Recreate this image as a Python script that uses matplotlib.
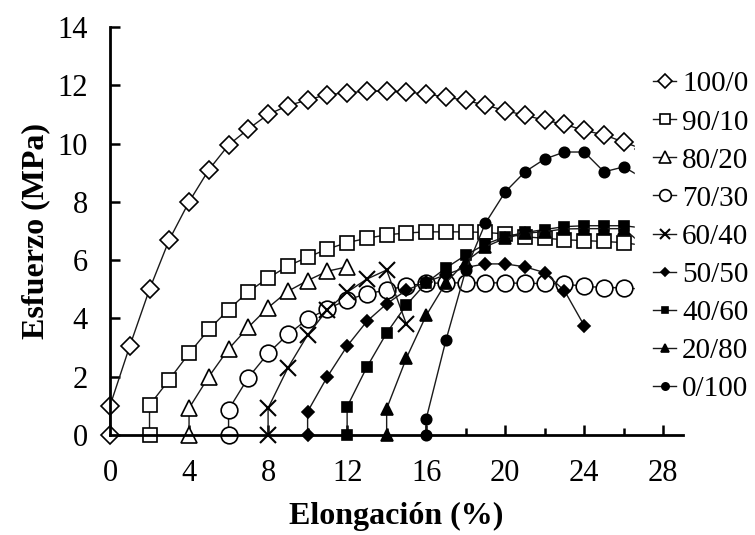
import matplotlib
matplotlib.use("Agg")
import matplotlib.pyplot as plt
from matplotlib.ticker import MultipleLocator

plt.rcParams['font.family'] = ['Liberation Serif', 'DejaVu Serif']

# strain (%) / stress (MPa) for each blend; every curve starts at (x0, 0)
labels = ['100/0', '90/10', '80/20', '70/30', '60/40', '50/50', '40/60', '20/80', '0/100']

x_100_0 = [0, 0, 1, 2, 3, 4, 5, 6, 7, 8, 9, 10, 11, 12, 13, 14, 15, 16, 17, 18, 19, 20,
           21, 22, 23, 24, 25, 26, 27]
y_100_0 = [0, 1.0, 3.05, 5.0, 6.7, 8.0, 9.1, 9.95, 10.5, 11.0, 11.3, 11.5, 11.68, 11.74,
           11.8, 11.8, 11.77, 11.7, 11.6, 11.48, 11.32, 11.13, 10.97, 10.8, 10.66, 10.45,
           10.3, 10.05, 9.8]

x_90_10 = [2, 2, 3, 4, 5, 6, 7, 8, 9, 10, 11, 12, 13, 14, 15, 16, 17, 18, 19, 20, 21, 22,
           23, 24, 25, 26, 27]
y_90_10 = [0, 1.02, 1.9, 2.8, 3.62, 4.3, 4.92, 5.38, 5.8, 6.1, 6.38, 6.6, 6.75, 6.87,
           6.93, 6.97, 6.97, 6.97, 6.95, 6.9, 6.8, 6.75, 6.7, 6.67, 6.64, 6.6, 6.5]

x_80_20 = [4, 4, 5, 6, 7, 8, 9, 10, 11, 12]
y_80_20 = [0, 0.92, 2.0, 2.95, 3.7, 4.37, 4.93, 5.3, 5.62, 5.77]

x_70_30 = [6, 6, 7, 8, 9, 10, 11, 12, 13, 14, 15, 16, 17, 18, 19, 20, 21, 22, 23, 24,
           25, 26, 27]
y_70_30 = [0, 0.87, 1.97, 2.8, 3.45, 3.97, 4.33, 4.63, 4.85, 4.97, 5.12, 5.2, 5.22, 5.22,
           5.22, 5.22, 5.2, 5.2, 5.18, 5.1, 5.06, 5.05, 5.0]

x_60_40 = [8, 8, 9, 10, 11, 12, 13, 14, 15]
y_60_40 = [0, 0.92, 2.3, 3.43, 4.3, 4.9, 5.35, 5.66, 3.8]

x_50_50 = [10, 10, 11, 12, 13, 14, 15, 16, 17, 18, 19, 20, 21, 22, 23, 24]
y_50_50 = [0, 0.8, 2.0, 3.05, 3.9, 4.5, 4.97, 5.25, 5.5, 5.75, 5.87, 5.87, 5.77, 5.57,
           4.95, 3.75]

x_40_60 = [12, 12, 13, 14, 15, 16, 17, 18, 19, 20, 21, 22, 23, 24, 25, 26, 27]
y_40_60 = [0, 0.97, 2.33, 3.5, 4.46, 5.22, 5.73, 6.17, 6.55, 6.8, 6.95, 7.05, 7.15,
           7.18, 7.18, 7.18, 7.1]

x_20_80 = [14, 14, 15, 16, 17, 18, 19, 20, 21, 22, 23, 24, 25, 26, 27]
y_20_80 = [0, 0.9, 2.64, 4.1, 5.22, 5.95, 6.46, 6.75, 6.92, 6.98, 7.07, 7.08, 7.08,
           7.08, 6.5]

x_0_100 = [16, 16, 17, 18, 19, 20, 21, 22, 23, 24, 25, 26, 27]
y_0_100 = [0, 0.55, 3.25, 5.65, 7.27, 8.34, 9.03, 9.47, 9.71, 9.71, 9.03, 9.2, 8.8]

xs = [x_100_0, x_90_10, x_80_20, x_70_30, x_60_40, x_50_50, x_40_60, x_20_80, x_0_100]
ys = [y_100_0, y_90_10, y_80_20, y_70_30, y_60_40, y_50_50, y_40_60, y_20_80, y_0_100]

# marker, size, filled
styles = [('D', 9.5, False), ('s', 9.5, False), ('^', 11.5, False), ('o', 12, False),
          ('x', 11, False), ('D', 6.5, True), ('s', 6.5, True), ('^', 8, True),
          ('o', 7.5, True)]

fig = plt.figure(figsize=(7.55, 5.35), dpi=100)
ax = fig.add_axes([0.1457, 0.187, 0.759, 0.7625])

for x, y, lab, (m, ms, filled) in zip(xs, ys, labels, styles):
    ax.plot(x, y, color='#1a1a1a', lw=1.0, marker=m, ms=ms,
            mfc='black' if filled else 'white', mec='black',
            mew=1.5 if m == 'x' else 1.2, label=lab, clip_on=False)

ax.set_xlim(0, 29)
ax.set_ylim(0, 14)
ax.xaxis.set_major_locator(MultipleLocator(4))
ax.xaxis.set_minor_locator(MultipleLocator(2))
ax.yaxis.set_major_locator(MultipleLocator(2))

for s in ['top', 'right']:
    ax.spines[s].set_visible(False)
for s in ['left', 'bottom']:
    ax.spines[s].set_linewidth(2.0)

ax.tick_params(which='major', direction='in', length=7, width=1.8, labelsize=22, pad=17)
ax.tick_params(which='minor', direction='in', length=5, width=1.8)
ax.tick_params(axis='y', pad=16)

ax.set_xlabel('Elongación (%)', fontsize=23, fontweight='bold', labelpad=10)
ax.set_ylabel('Esfuerzo (MPa)', fontsize=23, fontweight='bold', labelpad=5)

# white legend box sits over the right end of the curves, as in the original
leg = ax.legend(loc='upper left', bbox_to_anchor=(0.917, 0.935), fontsize=21,
                frameon=True, fancybox=False, edgecolor='white', facecolor='white',
                framealpha=1.0, borderaxespad=0, borderpad=0.6, handlelength=0.8,
                handletextpad=0.2, labelspacing=0.4, markerscale=0.7)
leg.set_zorder(5)

fig.savefig('out.png', dpi=100)
